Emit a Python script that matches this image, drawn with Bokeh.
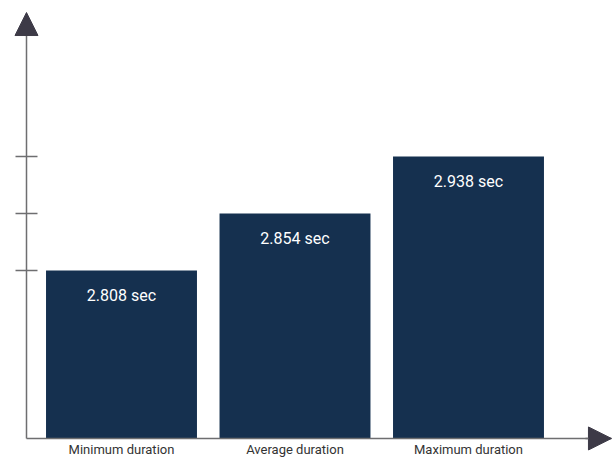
from bokeh.plotting import figure
from bokeh.models import Range1d, LinearAxis, FixedTicker, Arrow, NormalHead, ColumnDataSource
from bokeh.core.properties import value
from bokeh.embed import file_html
from bokeh.resources import INLINE

# ---- data ----
categories = ["Minimum duration", "Average duration", "Maximum duration"]
durations = [2.808, 2.854, 2.938]
unit = "sec"

positions = list(range(1, len(categories) + 1))
order = sorted(range(len(durations)), key=lambda i: durations[i])
levels = [0] * len(durations)
for r, i in enumerate(order):
    levels[i] = r + 1
labels = [f"{d:.3f} {unit}" for d in durations]

# ---- styles ----
BAR = "#15304f"
AX = "#6e6e70"
HEAD = "#3d3a47"
FONT = "Roboto"
BASE = -1.947
YAX_X = 0.4524
X_END = 3.824
Y_TIP = 5.526

src = ColumnDataSource(dict(x=positions, level=levels, label=labels, cat=categories))

p = figure(width=612, height=457,
           x_range=Range1d(0.3026, 3.830), y_range=Range1d(-2.281, 5.737),
           x_axis_type=None, y_axis_type=None,
           output_backend="svg", toolbar_location=None,
           min_border=0, outline_line_color=None)
p.grid.visible = False

p.vbar(x="x", top="level", bottom=BASE, width=0.87, source=src,
       fill_color=BAR, line_color=None)
p.text(x="x", y="level", text="label", source=src, y_offset=25,
       text_align="center", text_baseline="middle", text_color="white",
       text_font=value(FONT), text_font_size="16px")

xaxis = LinearAxis(fixed_location=BASE, bounds=(YAX_X, X_END),
                   ticker=FixedTicker(ticks=positions),
                   major_label_overrides={x: c for x, c in zip(positions, categories)},
                   major_tick_in=0, major_tick_out=0, minor_tick_in=0, minor_tick_out=0,
                   axis_line_color=AX, axis_line_width=1.5,
                   major_label_standoff=4,
                   major_label_text_font=FONT, major_label_text_font_size="13px",
                   major_label_text_color="#333333")
p.add_layout(xaxis, "below")

yaxis = LinearAxis(fixed_location=YAX_X, bounds=(BASE, Y_TIP - 0.2),
                   ticker=FixedTicker(ticks=sorted(levels)),
                   major_label_overrides={lv: "" for lv in levels},
                   major_tick_in=11, major_tick_out=11, minor_tick_in=0, minor_tick_out=0,
                   major_tick_line_color=AX, major_tick_line_width=1.5,
                   axis_line_color=AX, axis_line_width=1.5,
                   major_label_text_font_size="1px")
p.add_layout(yaxis, "left")

p.add_layout(Arrow(end=NormalHead(size=23, fill_color=HEAD, line_color=HEAD),
                   x_start=YAX_X, y_start=Y_TIP - 0.3, x_end=YAX_X, y_end=Y_TIP,
                   line_color=AX, line_width=1.5))
p.add_layout(Arrow(end=NormalHead(size=23, fill_color=HEAD, line_color=HEAD),
                   x_start=X_END - 0.15, y_start=BASE, x_end=X_END, y_end=BASE,
                   line_color=AX, line_width=1.5))

open("out.html", "w").write(file_html(p, INLINE))
